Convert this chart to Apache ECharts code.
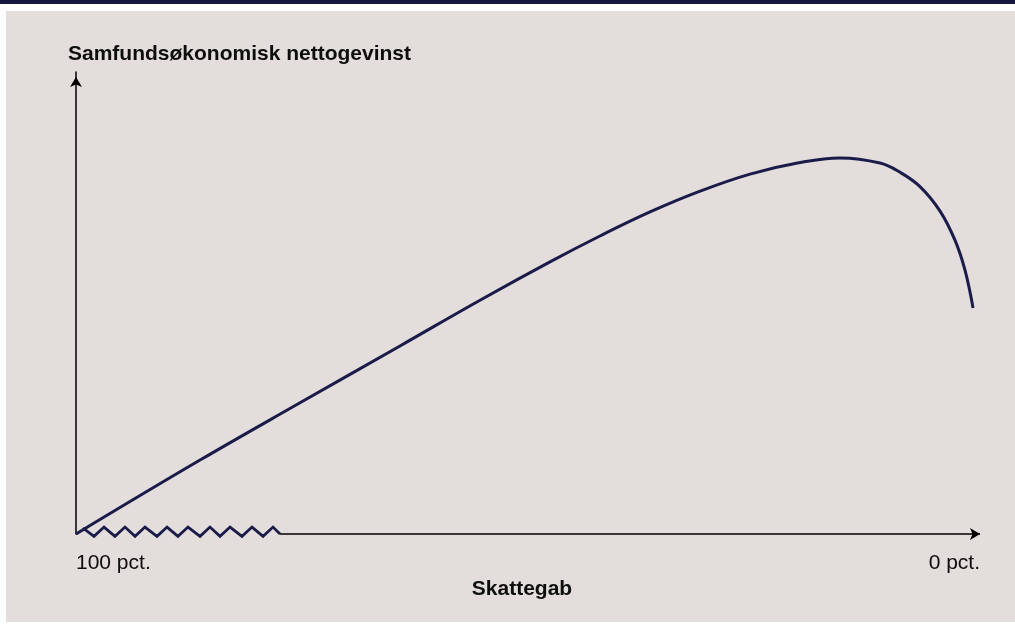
<!DOCTYPE html>
<html>
<head>
<meta charset="utf-8">
<script src="https://cdn.jsdelivr.net/npm/echarts@6/dist/echarts.min.js"></script>
<style>
  html, body { margin: 0; padding: 0; background: #fff; }
  #chart { width: 1015px; height: 625px; }
</style>
</head>
<body>
<div id="chart"></div>
<script>
// skattegab in pct. (100 at the origin, 0 at the right end) and net gain (index 0-100)
var curveGap = [100, 86.28, 75.22, 64.16, 55.31, 47.57, 42.04, 36.5, 30.97, 25.44, 19.91, 15.49, 11.06, 8.85, 6.64, 4.42, 2.77, 1.66, 0.77];
var curveGain = [0, 16.0, 28.4, 40.7, 50.6, 58.9, 64.5, 69.7, 74.2, 77.9, 80.4, 81.4, 80.3, 78.3, 75.2, 69.9, 63.6, 57.1, 48.9];

// zigzag break on the x axis
var zigGap = [99.23, 98.01, 96.9, 95.69, 94.58, 93.47, 92.37, 91.04, 89.93, 88.72, 87.61, 86.28, 85.18, 84.07, 82.96, 81.64, 80.53, 79.31, 78.21, 77.43];
var zigGain = [1.3, -0.5, 1.5, -0.5, 1.5, -0.5, 1.5, -0.5, 1.5, -0.5, 1.5, -0.5, 1.5, -0.5, 1.5, -0.5, 1.5, -0.5, 1.5, 0];

var xTicks = [0, 100];
var yTitle = "Samfundsøkonomisk nettogevinst";
var xTitle = "Skattegab";

var navy = "#1b1b4a";
var font = "'Liberation Sans', Arial, sans-serif";

function toPoints(gap, val) {
  // x axis runs left to right from 100 pct. to 0 pct.
  return gap.map(function (g, i) { return [100 - g, val[i]]; });
}

var chart = echarts.init(document.getElementById("chart"), null, { renderer: "canvas" });
chart.setOption({
  backgroundColor: "#ffffff",
  animation: false,
  graphic: [
    { type: "rect", z: -10, shape: { x: 0, y: 0, width: 1015, height: 4 }, style: { fill: "#15153d" } },
    { type: "rect", z: -10, shape: { x: 6, y: 11, width: 1009, height: 611 }, style: { fill: "#e3dddc" } }
  ],
  title: {
    text: yTitle,
    left: 68,
    top: 44,
    padding: 0,
    textStyle: { fontFamily: font, fontSize: 21, fontWeight: "bold", color: "#0d0d0d" }
  },
  grid: { left: 76, right: 35, top: 72, bottom: 91 },
  xAxis: {
    type: "value",
    min: xTicks[0],
    max: xTicks[1],
    interval: 100,
    name: xTitle,
    nameLocation: "middle",
    nameGap: 37,
    nameTextStyle: { fontFamily: font, fontSize: 21, fontWeight: "bold", color: "#0d0d0d", padding: [0, 12, 0, 0] },
    axisLine: { show: false },
    axisTick: { show: false },
    splitLine: { show: false },
    axisLabel: {
      margin: 19,
      fontFamily: font,
      fontSize: 21,
      color: "#0d0d0d",
      alignMinLabel: "left",
      alignMaxLabel: "right",
      formatter: function (v) { return (100 - v) + " pct."; }
    }
  },
  yAxis: {
    type: "value",
    min: 0,
    max: 100,
    axisLine: {
      show: true,
      symbol: ["none", "arrow"],
      symbolSize: [9, 10],
      symbolOffset: [0, -5],
      lineStyle: { color: "#000", width: 1.5 }
    },
    axisTick: { show: false },
    axisLabel: { show: false },
    splitLine: { show: false }
  },
  series: [
    {
      type: "line",
      data: toPoints(curveGap, curveGain),
      smooth: 0.4,
      symbol: "none",
      clip: false,
      lineStyle: { color: navy, width: 3 },
      z: 5
    },
    {
      type: "line",
      data: toPoints(zigGap, zigGain),
      symbol: "none",
      clip: false,
      lineStyle: { color: navy, width: 2.8, join: "miter" },
      z: 5,
      markLine: {
        silent: true,
        symbol: ["none", "arrow"],
        symbolSize: [9, 10],
        label: { show: false },
        lineStyle: { color: "#000", width: 1.5, type: "solid" },
        data: [[{ coord: [100 - zigGap[zigGap.length - 1], 0] }, { coord: [100 - xTicks[0], 0] }]]
      }
    }
  ]
});
</script>
</body>
</html>
